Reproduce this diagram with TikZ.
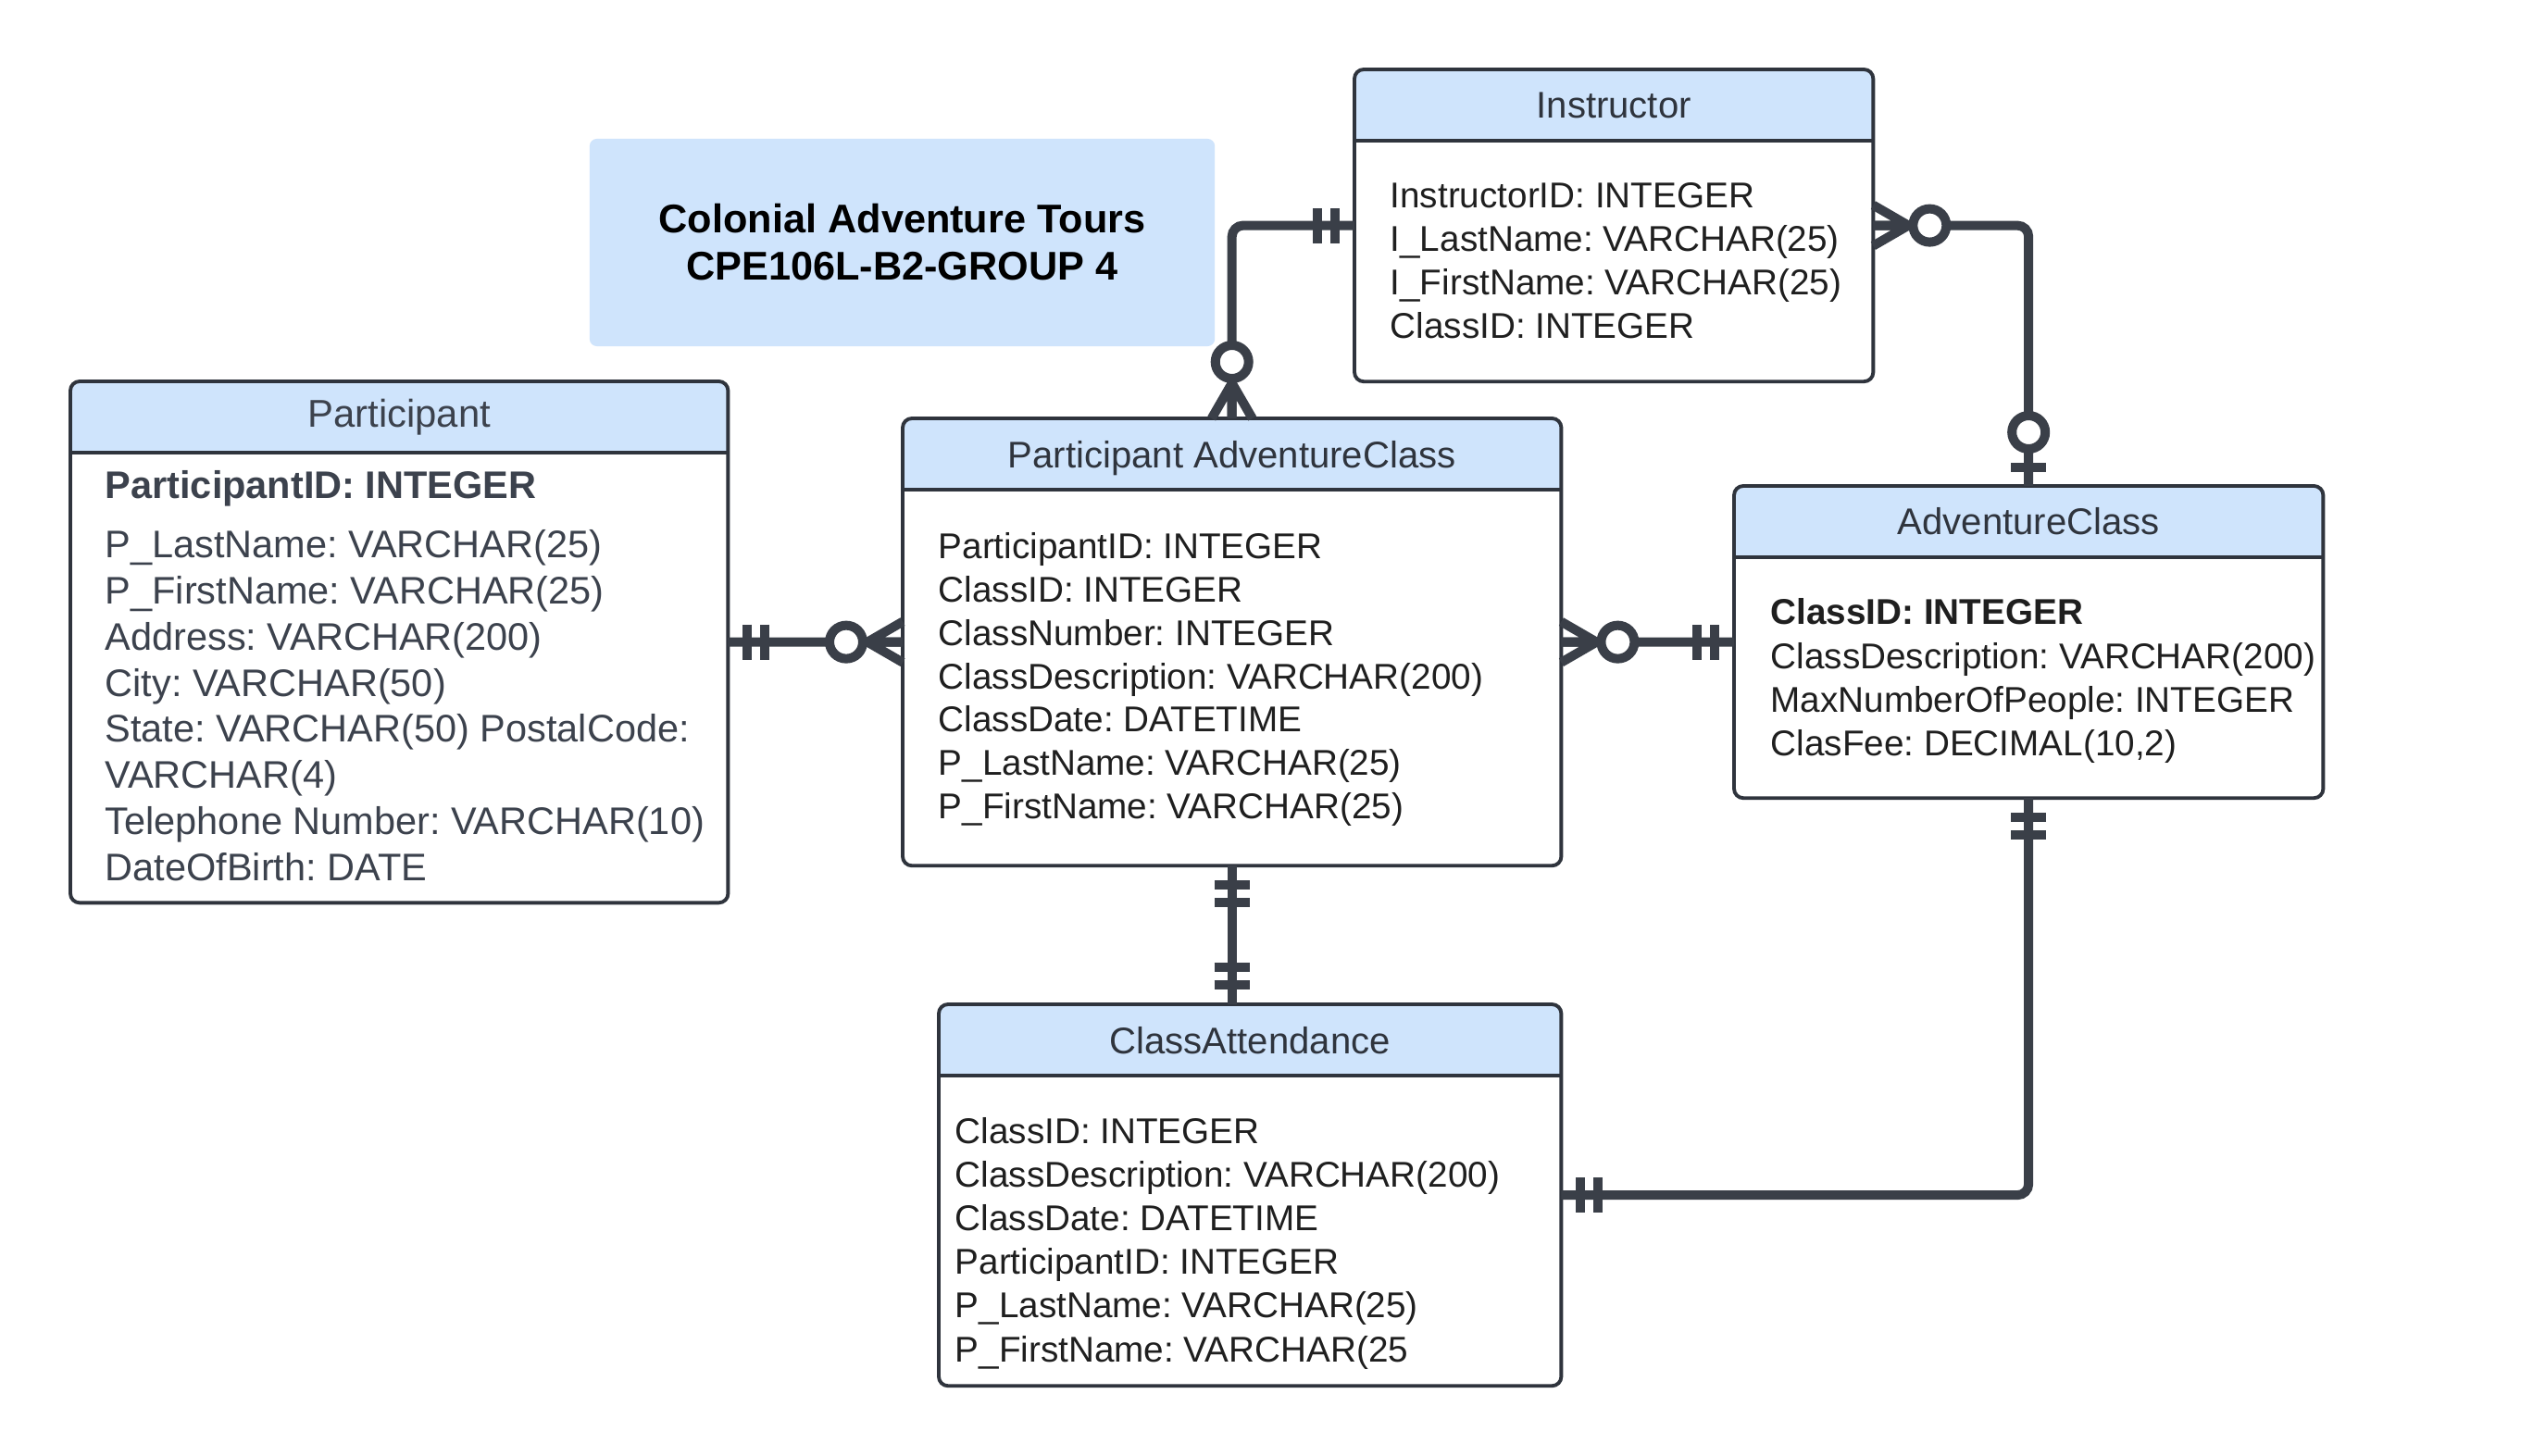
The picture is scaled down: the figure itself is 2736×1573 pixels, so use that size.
\documentclass[tikz,border=0pt]{standalone}
\usepackage{fontspec}
\setmainfont{Liberation Sans}

\definecolor{headfill}{HTML}{CFE4FC}
\definecolor{boxline}{HTML}{2F343D}
\definecolor{relcol}{HTML}{3A3F48}
\definecolor{ink}{HTML}{1F1F1F}
\definecolor{grayink}{HTML}{3C424D}

\tikzset{
	rel/.style={draw=relcol, line width=0.1cm},
	onlyone/.pic={\draw[rel] (21,-19) -- (21,19) (40,-19) -- (40,19);},
	zeromany/.pic={\draw[rel] (0,-22) -- (38,0) (0,22) -- (38,0) (0,0) -- (38,0);
		\draw[rel, fill=white] (61,0) circle (18);},
	zeroone/.pic={\draw[rel] (20,-19) -- (20,19);
		\draw[rel, fill=white] (58,0) circle (18);}
}

\begin{document}
\frenchspacing
\begin{tikzpicture}[x=0.01cm, y=-0.01cm,
	entity/.style={draw=boxline, line width=1.1pt, rounded corners=0.1cm, fill=white, inner sep=0pt, outer sep=0pt, anchor=north west,
		path picture={\fill[headfill, sharp corners] (path picture bounding box.north west) rectangle ([yshift=-0.77cm]path picture bounding box.north east);
			\draw[boxline, line width=1.1pt, sharp corners] ([yshift=-0.77cm]path picture bounding box.north west) -- ([yshift=-0.77cm]path picture bounding box.north east);}},
	headtext/.style={anchor=base, inner sep=0pt, text=boxline, font=\fontsize{11.4}{13}\selectfont},
	attr/.style={anchor=north west, align=left, inner sep=0pt, text=ink, font=\fontsize{11}{13.3}\selectfont},
	pattr/.style={attr, text=grayink, font=\fontsize{11.8}{14.15}\selectfont}]
	\fill[white] (0,0) rectangle (2736,1573);

	% title
	\node[fill=headfill, rounded corners=0.08cm, minimum width=6.75cm, minimum height=2.24cm, align=center,
		font=\fontsize{12.3}{14.5}\selectfont\bfseries] (title) at (974.5,262) {Colonial Adventure Tours\\CPE106L-B2-GROUP 4};

	% entities
	\node[entity, minimum width=7.10cm, minimum height=5.63cm] (participant) at (76,412) {};
	\node[headtext, text=grayink, font=\fontsize{11.9}{13}\selectfont] (participant-head) at ([yshift=-0.49cm]participant.north) {Participant};
	\node[pattr, font=\fontsize{11.8}{14.15}\selectfont\bfseries] (participant-key) at (113,508) {ParticipantID: INTEGER};
	\node[pattr] (participant-attr) at (113,572) {P\_LastName: VARCHAR(25)\\P\_FirstName: VARCHAR(25)\\Address: VARCHAR(200)\\City: VARCHAR(50)\\State: VARCHAR(50) PostalCode:\\VARCHAR(4)\\Telephone Number: VARCHAR(10)\\DateOfBirth: DATE};

	\node[entity, minimum width=7.11cm, minimum height=4.83cm] (pac) at (975,452) {};
	\node[headtext] (pac-head) at ([yshift=-0.53cm]pac.north) {Participant AdventureClass};
	\node[attr] (pac-attr) at (1013,575) {ParticipantID: INTEGER\\ClassID: INTEGER\\ClassNumber: INTEGER\\ClassDescription: VARCHAR(200)\\ClassDate: DATETIME\\P\_LastName: VARCHAR(25)\\P\_FirstName: VARCHAR(25)};

	\node[entity, minimum width=5.60cm, minimum height=3.37cm] (instructor) at (1463,75) {};
	\node[headtext] (instructor-head) at ([yshift=-0.52cm]instructor.north) {Instructor};
	\node[attr] (instructor-attr) at (1501,197) {InstructorID: INTEGER\\I\_LastName: VARCHAR(25)\\I\_FirstName: VARCHAR(25)\\ClassID: INTEGER};

	\node[entity, minimum width=6.36cm, minimum height=3.37cm] (advclass) at (1873,525) {};
	\node[headtext] (advclass-head) at ([yshift=-0.52cm]advclass.north) {AdventureClass};
	\node[attr, font=\fontsize{11}{13.45}\selectfont] (advclass-attr) at (1912,646) {\textbf{ClassID: INTEGER}\\ClassDescription: VARCHAR(200)\\MaxNumberOfPeople: INTEGER\\ClasFee: DECIMAL(10,2)};

	\node[entity, minimum width=6.72cm, minimum height=4.12cm] (attendance) at (1014,1085) {};
	\node[headtext] (attendance-head) at ([yshift=-0.53cm]attendance.north) {ClassAttendance};
	\node[attr, font=\fontsize{11}{13.38}\selectfont] (attendance-attr) at (1031,1207) {ClassID: INTEGER\\ClassDescription: VARCHAR(200)\\ClassDate: DATETIME\\ParticipantID: INTEGER\\P\_LastName: VARCHAR(25)\\P\_FirstName: VARCHAR(25};

	% relationships
	\draw[rel] (participant.east) -- (pac.west);
	\draw[rel, rounded corners=0.12cm] (instructor.west) -| (pac.north);
	\draw[rel, rounded corners=0.12cm] (instructor.east) -| (advclass.north);
	\draw[rel] (pac.east) -- (advclass.west);
	\draw[rel] (pac.south) -- (pac.south |- attendance.north);
	\draw[rel, rounded corners=0.12cm] (advclass.south) |- (attendance.east);

	\pic at (participant.east) {onlyone};
	\pic[rotate=180] at (pac.west) {zeromany};
	\pic[rotate=180] at (instructor.west) {onlyone};
	\pic[rotate=90] at (pac.north) {zeromany};
	\pic at (instructor.east) {zeromany};
	\pic[rotate=90] at (advclass.north) {zeroone};
	\pic at (pac.east) {zeromany};
	\pic[rotate=180] at (advclass.west) {onlyone};
	\pic[rotate=-90] at (pac.south) {onlyone};
	\pic[rotate=90] at (pac.south |- attendance.north) {onlyone};
	\pic[rotate=-90] at (advclass.south) {onlyone};
	\pic at (attendance.east) {onlyone};
\end{tikzpicture}
\end{document}
